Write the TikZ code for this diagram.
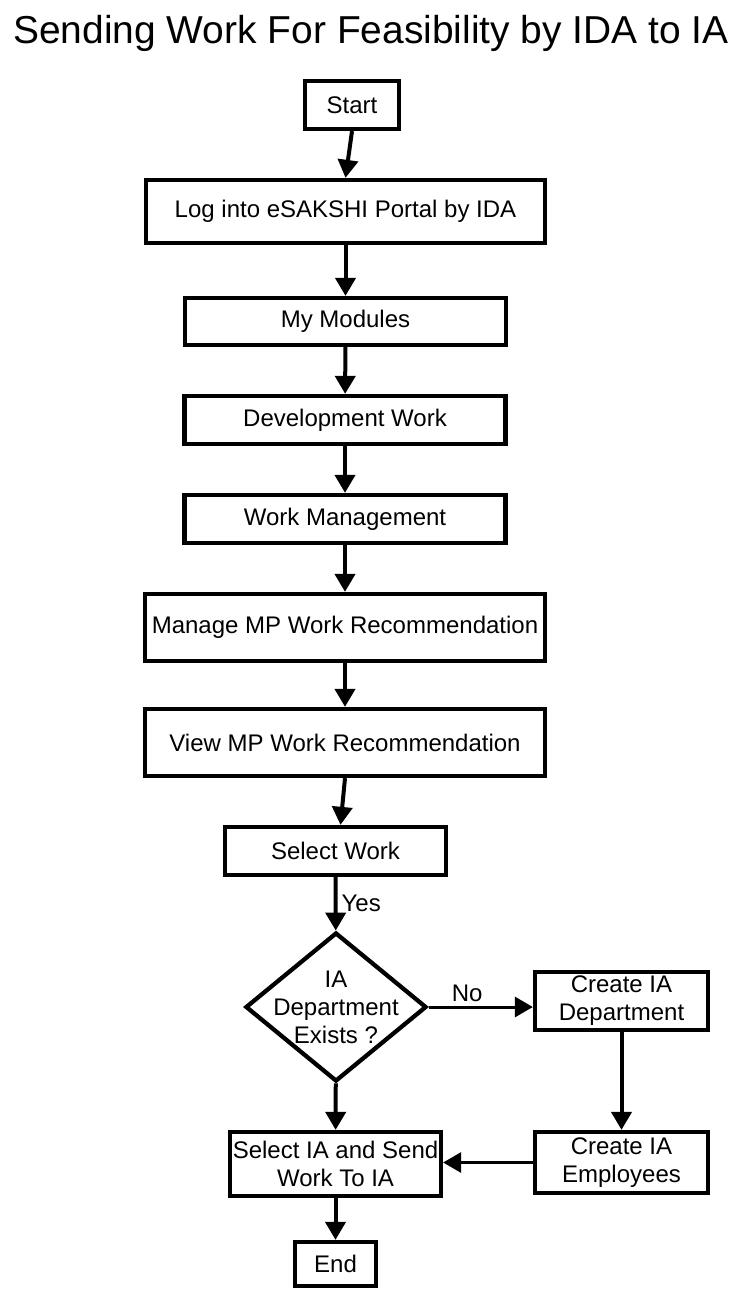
\documentclass[tikz,border=0pt]{standalone}
\usepackage{fontspec}
\setmainfont{Liberation Sans}
\usetikzlibrary{shapes.geometric,arrows.meta}
\begin{document}
\begin{tikzpicture}[x=0.75pt,y=-0.75pt,
  box/.style={draw,line width=3.2pt,rectangle,inner sep=0pt,align=center,
    font=\fontsize{18pt}{21pt}\selectfont},
  decision/.style={draw,line width=3.2pt,diamond,inner sep=0pt,
    minimum width=135.75pt,minimum height=111.75pt},
  arr/.style={line width=3pt,-{Triangle[length=13.5pt,width=15pt]}},
  thinarr/.style={line width=2.25pt,-{Triangle[length=13.5pt,width=15pt]}},
  lbl/.style={font=\fontsize{18pt}{21pt}\selectfont,inner sep=0pt}]
\useasboundingbox (0,0) rectangle (740,1292);
\node[font=\fontsize{29.2pt}{34pt}\selectfont] (title) at (371,33) {Sending Work For Feasibility by IDA to IA};
\node[box,minimum width=70.5pt,minimum height=36pt] (start) at (352,105) {Start};
\node[box,minimum width=299.25pt,minimum height=47.25pt] (log) at (345.5,211.5) {Log into eSAKSHI Portal by IDA};
\node[box,minimum width=240.75pt,minimum height=35.25pt] (mods) at (345.5,321.5) {My Modules};
\node[box,minimum width=240.75pt,minimum height=36pt] (dev) at (345,420) {Development Work};
\node[box,minimum width=240.75pt,minimum height=36pt] (wm) at (345,519) {Work Management};
\node[box,minimum width=300pt,minimum height=50.25pt] (mmp) at (345,627.5) {Manage MP Work Recommendation};
\node[box,minimum width=300pt,minimum height=50.25pt] (vmp) at (345,742.5) {View MP Work Recommendation};
\node[box,minimum width=165.75pt,minimum height=36pt] (sel) at (335.5,851) {Select Work};
\node[decision,label={[lbl,align=center]center:IA\\Department\\Exists ?}] (dia) at (336,1007) {};
\node[box,minimum width=129.75pt,minimum height=43.5pt] (cid) at (621.5,1001) {Create IA\\Department};
\node[box,minimum width=129.75pt,minimum height=45.75pt] (cie) at (621.5,1162.5) {Create IA\\Employees};
\node[box,minimum width=158.25pt,minimum height=48pt] (sia) at (335.5,1164) {Select IA and Send\\Work To IA};
\node[box,minimum width=60.75pt,minimum height=33pt] (end) at (335.5,1264) {End};
\coordinate (selin) at ([xshift=3.75pt]sel.north);
\draw[arr] (start.south) -- (log.north);
\draw[arr] (log) -- (mods);
\draw[arr] (mods) -- (dev);
\draw[arr] (dev) -- (wm);
\draw[arr] (wm) -- (mmp);
\draw[arr] (mmp) -- (vmp);
\draw[arr] (vmp.south) -- (selin);
\draw[arr] (sel) -- (dia) node[lbl,pos=0.5,anchor=west,xshift=3pt] (yes) {Yes};
\draw[thinarr] (dia.east) -- (dia.east -| cid.west) node[lbl,pos=0.37,above,yshift=3pt] (no) {No};
\draw[arr] (cid) -- (cie);
\draw[thinarr] (cie.west) -- (cie.west -| sia.east);
\draw[arr] (dia) -- (sia);
\draw[arr] (sia) -- (end);
\end{tikzpicture}
\end{document}
